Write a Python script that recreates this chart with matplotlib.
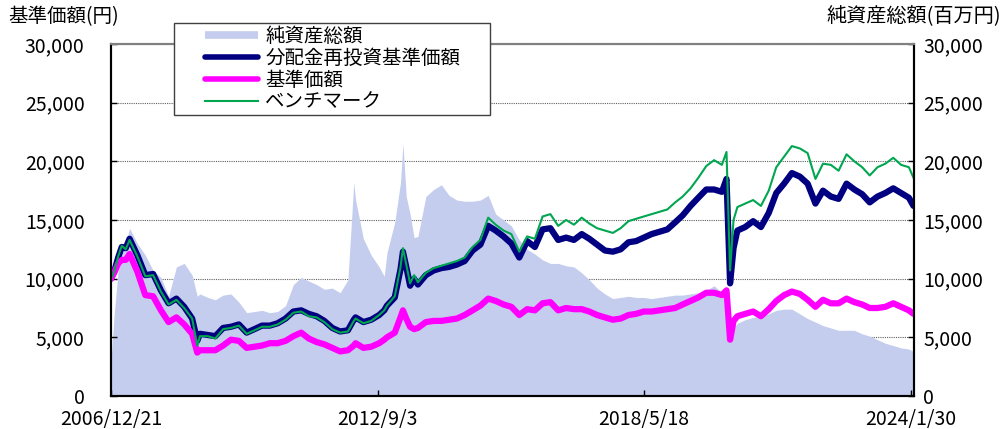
import matplotlib.pyplot as plt
import matplotlib.patches as mpatches
from matplotlib.lines import Line2D
import pandas as pd

plt.rcParams['font.family'] = ['Noto Sans CJK JP', 'DejaVu Sans']

# values
dates = [
    '2006-12-21',
    '2007-01-15', '2007-02-15', '2007-03-15', '2007-04-15', '2007-05-15', '2007-07-15', '2007-09-15', '2007-11-15',
    '2008-01-15', '2008-03-15', '2008-05-15', '2008-07-15', '2008-09-15', '2008-10-25', '2008-11-15',
    '2009-01-15', '2009-03-15', '2009-05-15', '2009-07-15', '2009-09-15', '2009-11-15',
    '2010-01-15', '2010-03-15', '2010-05-15', '2010-07-15', '2010-09-15', '2010-11-15',
    '2011-01-15', '2011-03-15', '2011-05-15', '2011-07-15', '2011-09-15', '2011-11-15',
    '2012-01-15', '2012-03-01', '2012-03-15', '2012-05-15', '2012-07-15', '2012-09-15', '2012-10-25', '2012-11-15',
    '2013-01-15', '2013-03-01', '2013-03-20', '2013-04-15', '2013-05-15', '2013-06-15', '2013-07-15', '2013-09-15', '2013-11-15',
    '2014-01-15', '2014-03-15', '2014-05-15', '2014-07-15', '2014-09-15', '2014-11-15',
    '2015-01-15', '2015-03-15', '2015-05-15', '2015-07-15', '2015-09-15', '2015-11-15',
    '2016-01-15', '2016-03-15', '2016-05-15', '2016-07-15', '2016-09-15', '2016-11-15',
    '2017-01-15', '2017-03-15', '2017-05-15', '2017-07-15', '2017-09-15', '2017-11-15',
    '2018-01-15', '2018-03-15', '2018-05-15', '2018-07-15', '2018-09-15', '2018-11-15',
    '2019-01-15', '2019-03-15', '2019-05-15', '2019-07-15', '2019-09-15', '2019-11-15',
    '2020-01-15', '2020-02-20', '2020-03-19', '2020-04-15', '2020-05-15', '2020-07-15', '2020-09-15', '2020-11-15',
    '2021-01-15', '2021-03-15', '2021-05-15', '2021-07-15', '2021-09-15', '2021-11-15',
    '2022-01-15', '2022-03-15', '2022-05-15', '2022-07-15', '2022-09-15', '2022-11-15',
    '2023-01-15', '2023-03-15', '2023-05-15', '2023-07-15', '2023-09-15', '2023-11-15',
    '2024-01-15', '2024-02-20',
]

nav_reinvested = [
    10000,
    10600, 11800, 12700, 12600, 13400, 12000, 10300, 10400,
    9000, 7900, 8300, 7600, 6600, 4700, 5300,
    5200, 5100, 5800, 5900, 6100, 5400,
    5700, 6000, 6000, 6200, 6600, 7200,
    7300, 7000, 6800, 6400, 5800, 5500,
    5600, 6500, 6700, 6300, 6500, 6900, 7300, 7700,
    8400, 10800, 12300, 11000, 9400, 10000, 9500, 10300, 10700,
    10900, 11000, 11200, 11500, 12400, 12900,
    14500, 14100, 13600, 13000, 11800, 13200,
    12700, 14200, 14300, 13300, 13500, 13300,
    13800, 13400, 12900, 12400, 12300, 12500,
    13100, 13200, 13500, 13800, 14000, 14200,
    14800, 15400, 16200, 16900, 17600, 17600,
    17400, 18500, 9600, 12600, 14100, 14400, 14900, 14400,
    15600, 17300, 18100, 19000, 18700, 18100,
    16400, 17500, 17000, 16800, 18100, 17600,
    17200, 16500, 17000, 17300, 17700, 17300,
    16900, 16200,
]

nav = [
    10000,
    10500, 11300, 11600, 11600, 12100, 10600, 8600, 8500,
    7300, 6300, 6700, 6100, 5300, 3700, 3900,
    3900, 3900, 4300, 4800, 4700, 4100,
    4200, 4300, 4500, 4500, 4700, 5100,
    5400, 4900, 4600, 4400, 4100, 3800,
    3900, 4300, 4500, 4100, 4200, 4500, 4800, 5000,
    5400, 6700, 7300, 6600, 5900, 5700, 5800, 6300, 6400,
    6400, 6500, 6600, 6900, 7300, 7700,
    8300, 8100, 7800, 7600, 6900, 7400,
    7300, 7900, 8000, 7300, 7500, 7400,
    7400, 7200, 6900, 6700, 6500, 6600,
    6900, 7000, 7200, 7200, 7300, 7400,
    7500, 7800, 8100, 8400, 8800, 8800,
    8600, 9000, 4800, 6400, 6800, 7000, 7200, 6800,
    7400, 8100, 8600, 8900, 8700, 8200,
    7600, 8200, 7900, 7900, 8300, 8000,
    7800, 7500, 7500, 7600, 7900, 7600,
    7300, 7000,
]

benchmark = [
    10000,
    10600, 11900, 12800, 12500, 13300, 11900, 10200, 10300,
    8900, 7800, 8200, 7500, 6600, 4300, 5100,
    5100, 4900, 5700, 5800, 6000, 5300,
    5600, 5900, 5900, 6100, 6500, 7100,
    7200, 6800, 6700, 6300, 5700, 5400,
    5500, 6400, 6600, 6200, 6400, 6900, 7300, 7700,
    8500, 11000, 12600, 11200, 9600, 10300, 9700, 10500, 10900,
    11100, 11300, 11500, 11800, 12700, 13300,
    15200, 14600, 14100, 13800, 12300, 13600,
    13400, 15300, 15500, 14500, 15000, 14600,
    15200, 14700, 14300, 14100, 13900, 14300,
    14900, 15100, 15300, 15500, 15700, 15900,
    16500, 17000, 17700, 18600, 19600, 20100,
    19700, 20800, 10700, 15000, 16100, 16400, 16700, 16200,
    17500, 19500, 20400, 21300, 21100, 20700,
    18500, 19800, 19700, 19200, 20600, 20000,
    19500, 18800, 19500, 19800, 20300, 19700,
    19500, 18600,
]

net_assets = [
    3000,
    7000, 10700, 12000, 13000, 14300, 13000, 12000, 10700,
    10100, 8500, 11000, 11300, 10300, 8500, 8700,
    8400, 8200, 8600, 8700, 8000, 7100,
    7200, 7300, 7100, 7200, 7700, 9500,
    10100, 9800, 9500, 9100, 9200, 8800,
    9900, 18200, 16700, 13400, 12000, 11000, 10200, 12200,
    14800, 18200, 21500, 17000, 15500, 13500, 13600, 17000, 17600,
    18000, 17100, 16700, 16600, 16600, 16700,
    17100, 15500, 15000, 14500, 13300, 12500,
    12100, 11600, 11300, 11300, 11100, 11000,
    10500, 9900, 9200, 8700, 8300, 8400,
    8500, 8400, 8400, 8300, 8400, 8500,
    8600, 8600, 8700, 8800, 9000, 9400,
    8800, 8700, 5300, 5800, 6200, 6500, 6700, 6800,
    7000, 7300, 7400, 7400, 7000, 6600,
    6300, 6000, 5800, 5600, 5600, 5600,
    5300, 5100, 4800, 4500, 4300, 4100,
    4000, 3800,
]

tick_dates = ['2006-12-21', '2012-09-03', '2018-05-18', '2024-01-30']
y_ticks = [0, 5000, 10000, 15000, 20000, 25000, 30000]

c_area = '#C5CDEE'
c_navy = '#000080'
c_mag = '#FF00FF'
c_green = '#00A650'

x = pd.to_datetime(dates)
xt = pd.to_datetime(tick_dates)

fig = plt.figure(figsize=(10.08, 4.29), dpi=100)
ax = fig.add_axes([111 / 1008, 33 / 429, 803 / 1008, 352 / 429])
ax2 = ax.twinx()
ax.set_zorder(ax2.get_zorder() + 1)
ax.patch.set_visible(False)

# net assets on the right axis, behind the lines
ax2.fill_between(x, net_assets, color=c_area, lw=0, zorder=1)
ax2.set_axisbelow(True)
ax2.grid(axis='y', ls=(0, (1, 1)), color='#606060', lw=0.8)

ax.plot(x, nav_reinvested, color=c_navy, lw=4.5, solid_capstyle='round', solid_joinstyle='round')
ax.plot(x, nav, color=c_mag, lw=4.5, solid_capstyle='round', solid_joinstyle='round')
ax.plot(x, benchmark, color=c_green, lw=1.5)

for a in (ax, ax2):
    a.set_ylim(0, 30000)
    a.set_yticks(y_ticks)
    a.set_yticklabels([f'{v:,}' for v in y_ticks])
    a.set_xlim(pd.Timestamp('2006-12-21'), pd.Timestamp('2024-02-24'))
    for s in ('left', 'right', 'bottom'):
        a.spines[s].set_color('black')
        a.spines[s].set_linewidth(1.5)
    a.spines['top'].set_color('#808080')
    a.spines['top'].set_linewidth(1.5)

ax.set_xticks(xt)
ax.set_xticklabels([f'{d.year}/{d.month}/{d.day}' for d in xt])
ax.tick_params(axis='x', direction='in', length=4, width=1, labelsize=14, pad=9)
ax.tick_params(axis='y', direction='in', length=4, width=1, labelsize=14, pad=19)
ax2.tick_params(axis='y', direction='in', length=4, width=1, labelsize=14, pad=6.5)

fig.text(8 / 1008, 1 - 17 / 429, '基準価額(円)', fontsize=14, ha='left', va='center')
fig.text(826 / 1008, 1 - 17 / 429, '純資産総額(百万円)', fontsize=14.5, ha='left', va='center')

# legend box
box = mpatches.Rectangle((174 / 1008, 1 - 115 / 429), 316 / 1008, 92 / 429,
                         transform=fig.transFigure, facecolor='white',
                         edgecolor='#404040', lw=1, zorder=3)
fig.add_artist(box)
handles = [
    Line2D([], [], color=c_area, lw=5.5, solid_capstyle='butt'),
    Line2D([], [], color=c_navy, lw=4, solid_capstyle='round'),
    Line2D([], [], color=c_mag, lw=4, solid_capstyle='round'),
    Line2D([], [], color=c_green, lw=1.5),
]
labels = ['純資産総額', '分配金再投資基準価額', '基準価額', 'ベンチマーク']
leg = fig.legend(handles, labels, loc='upper left', bbox_to_anchor=(205 / 1008, 1 - 26 / 429),
                 frameon=False, borderpad=0, borderaxespad=0, handlelength=2.75,
                 handletextpad=0.35, labelspacing=0.04, fontsize=14)
leg.set_zorder(5)

fig.savefig('out.png', dpi=100)
